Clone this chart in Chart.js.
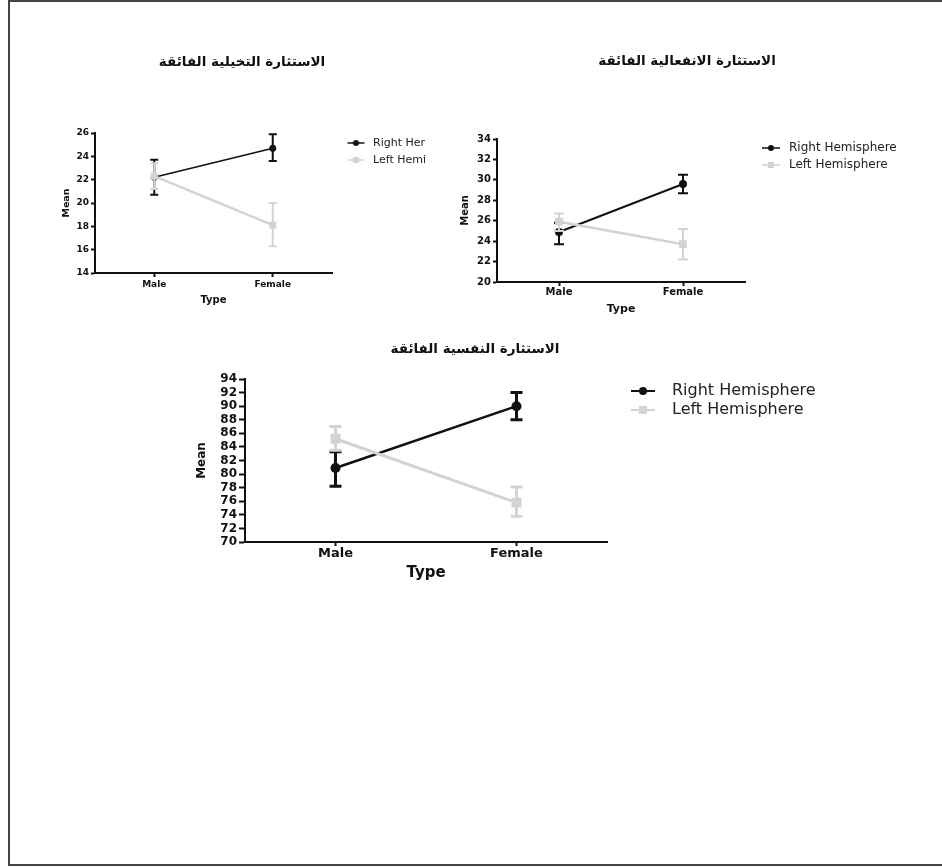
<!DOCTYPE html>
<html>
<head>
<meta charset="utf-8">
<script src="https://cdn.jsdelivr.net/npm/chart.js@4.4.0/dist/chart.umd.min.js"></script>
<style>
  html, body { margin: 0; padding: 0; background: #fff; }
  body { width: 942px; height: 868px; position: relative; overflow: hidden; }
  #frame { position: absolute; left: 8px; top: 0; width: 940px; height: 862px;
           border: 2px solid #444; border-right: none; }
  #clip1 { position: absolute; left: 0; top: 0; width: 425px; height: 868px; overflow: hidden; }
  canvas { position: absolute; }
</style>
</head>
<body>
<div id="frame"></div>
<div id="clip1"><canvas id="c1" width="420" height="273" style="left:20px;top:40px;width:420px;height:273px"></canvas></div>
<canvas id="c2" width="487" height="282" style="left:440px;top:40px;width:487px;height:282px"></canvas>
<canvas id="c3" width="695" height="257" style="left:125px;top:330px;width:695px;height:257px"></canvas>
<script>
// categories and series
const categories = ['Male', 'Female'];
const seriesNames = ['Right Hemisphere', 'Left Hemisphere'];
const titles = [
  'الاستثارة التخيلية الفائقة',
  'الاستثارة الانفعالية الفائقة',
  'الاستثارة النفسية الفائقة'
];
const xTitle = 'Type';
const yTitle = 'Mean';

// imaginative overexcitability
const imgRange = [14, 26];
const imgRightMean = [22.2, 24.7];
const imgRightLow  = [20.7, 23.6];
const imgRightHigh = [23.7, 25.9];
const imgLeftMean  = [22.3, 18.1];
const imgLeftLow   = [21.2, 16.3];
const imgLeftHigh  = [23.4, 20.0];

// emotional overexcitability
const emoRange = [20, 34];
const emoRightMean = [24.9, 29.6];
const emoRightLow  = [23.7, 28.7];
const emoRightHigh = [25.8, 30.5];
const emoLeftMean  = [25.9, 23.7];
const emoLeftLow   = [25.0, 22.2];
const emoLeftHigh  = [26.7, 25.2];

// psychomotor overexcitability
const psyRange = [70, 94];
const psyRightMean = [80.9, 90.0];
const psyRightLow  = [78.2, 88.0];
const psyRightHigh = [83.3, 92.0];
const psyLeftMean  = [85.2, 75.8];
const psyLeftLow   = [83.5, 73.8];
const psyLeftHigh  = [87.0, 78.1];

Chart.defaults.font.family = '"DejaVu Sans", "Liberation Sans", sans-serif';
Chart.defaults.color = '#111';

const BLACK = '#111111';
const GREY = '#d3d3d3';

// small line + marker picture used as legend symbol
function legendIcon(color, shape, width, lineLen, gapR, mark, lineW)
{
  const c = document.createElement('canvas');
  c.width = width;
  c.height = mark + 4;
  const g = c.getContext('2d');
  const cy = c.height / 2;
  const x2 = width - gapR, x1 = x2 - lineLen, cx = (x1 + x2) / 2;
  g.strokeStyle = color;
  g.lineWidth = lineW;
  g.beginPath(); g.moveTo(x1, cy); g.lineTo(x2, cy); g.stroke();
  g.fillStyle = color;
  if (shape == 'circle')
  {
    g.beginPath(); g.arc(cx, cy, mark / 2, 0, Math.PI * 2); g.fill();
  }
  else
  {
    g.fillRect(cx - mark / 2, cy - mark / 2, mark, mark);
  }
  return c;
}

// error bars, drawn under each dataset's line and markers
const errorBars = {
  id: 'errorBars',
  beforeDatasetDraw(chart, args)
  {
    const ds = chart.data.datasets[args.index];
    const y = chart.scales.y;
    const ctx = chart.ctx;
    ctx.save();
    ctx.strokeStyle = ds.borderColor;
    ctx.lineWidth = ds.errWidth;
    args.meta.data.forEach((pt, i) => {
      const top = y.getPixelForValue(ds.errHigh[i]);
      const bot = y.getPixelForValue(ds.errLow[i]);
      ctx.beginPath();
      ctx.moveTo(pt.x, top); ctx.lineTo(pt.x, bot);
      ctx.moveTo(pt.x - ds.capHalf, top); ctx.lineTo(pt.x + ds.capHalf, top);
      ctx.moveTo(pt.x - ds.capHalf, bot); ctx.lineTo(pt.x + ds.capHalf, bot);
      ctx.stroke();
    });
    ctx.restore();
  }
};

// move the legend's left and top edges a little after layout
const legendNudge = {
  id: 'legendNudge',
  afterLayout(chart, args, opts)
  {
    const l = chart.legend;
    if (!l) return;
    l.left += opts.dx;
    l.top += opts.dy; l.bottom += opts.dy;
  }
};

function buildChart(id, s)
{
  const datasets = [{
      label: seriesNames[0],
      data: s.rightMean, errLow: s.rightLow, errHigh: s.rightHigh,
      borderColor: BLACK, backgroundColor: BLACK, borderWidth: s.blackLine,
      pointStyle: 'circle', pointRadius: s.dotR, pointHoverRadius: s.dotR, pointBorderWidth: 0,
      errWidth: s.errW, capHalf: s.cap, order: 1, tension: 0,
      icon: legendIcon(BLACK, 'circle', s.iconW, s.iconLine, s.iconGap, s.iconMark, s.iconLW)
    }, {
      label: seriesNames[1],
      data: s.leftMean, errLow: s.leftLow, errHigh: s.leftHigh,
      borderColor: GREY, backgroundColor: GREY, borderWidth: s.greyLine,
      pointStyle: 'rect', pointRadius: s.sqR, pointHoverRadius: s.sqR, pointBorderWidth: 0,
      errWidth: s.errW, capHalf: s.cap, order: 0, tension: 0,
      icon: legendIcon(GREY, 'rect', s.iconW, s.iconLine, s.iconGap, s.iconMark, s.iconLW)
    }
  ];

  return new Chart(document.getElementById(id), {
    type: 'line',
    data: { labels: categories, datasets: datasets },
    options: {
      responsive: false,
      animation: false,
      events: [],
      layout: { padding: { left: s.padL, right: 0, top: 0, bottom: 0 } },
      scales: {
        x: {
          offset: true,
          border: { color: BLACK, width: 2 },
          grid: { drawOnChartArea: false, tickLength: s.xTick, tickColor: BLACK, tickWidth: 2 },
          ticks: { font: { size: s.xFont, weight: 'bold' }, padding: s.xPad, color: BLACK },
          title: { display: true, text: xTitle, color: BLACK,
                   font: { size: s.typeFont, weight: 'bold' }, padding: { top: 0, bottom: s.typePadB } },
          afterFit: sc => { sc.height = s.xH; }
        },
        y: {
          min: s.range[0], max: s.range[1],
          border: { color: BLACK, width: 2 },
          grid: { drawOnChartArea: false, tickLength: s.yTick, tickColor: BLACK, tickWidth: 2 },
          ticks: { stepSize: 2, autoSkip: false, font: { size: s.yFont, weight: 'bold' }, padding: 2, color: BLACK },
          title: { display: true, text: yTitle, color: BLACK,
                   font: { size: s.meanFont, weight: 'bold' }, padding: { top: s.meanPad, bottom: 0 } },
          afterFit: sc => { sc.width = s.yW; }
        }
      },
      plugins: {
        title: {
          display: true, text: s.title, color: BLACK,
          font: { size: s.titleFont, weight: 'bold' },
          padding: { top: s.titlePadT, bottom: s.titlePadB }
        },
        legend: {
          position: 'right', align: 'start', fullSize: false, maxWidth: s.legendW,
          labels: {
            usePointStyle: true, pointStyleWidth: s.iconW, padding: s.legPad,
            color: '#222', font: { size: s.legFont },
            generateLabels: chart => chart.data.datasets.map((d, i) => ({
              text: d.label, pointStyle: d.icon, datasetIndex: i, hidden: false,
              fillStyle: d.borderColor, strokeStyle: d.borderColor, lineWidth: 0, fontColor: '#222'
            }))
          }
        },
        tooltip: { enabled: false },
        legendNudge: { dx: s.legDx, dy: s.legDy }
      }
    },
    plugins: [errorBars, legendNudge]
  });
}

buildChart('c1', {
  title: titles[0], range: imgRange,
  rightMean: imgRightMean, rightLow: imgRightLow, rightHigh: imgRightHigh,
  leftMean: imgLeftMean, leftLow: imgLeftLow, leftHigh: imgLeftHigh,
  padL: 24, yW: 51, legendW: 108,
  titleFont: 13.5, titlePadT: 13.9, titlePadB: 62.9,
  xH: 40, xFont: 9, xPad: 2.6, xTick: 4, typeFont: 10, typePadB: 7,
  yFont: 9, yTick: 4, meanFont: 9.5, meanPad: 17.3,
  legFont: 11, legPad: 6, iconW: 22, iconLine: 17, iconGap: 3, iconMark: 6, iconLW: 1.5, legDx: 7.5, legDy: -1.5,
  dotR: 3.5, sqR: 5, blackLine: 1.5, greyLine: 2.5, errW: 2, cap: 4
});

buildChart('c2', {
  title: titles[1], range: emoRange,
  rightMean: emoRightMean, rightLow: emoRightLow, rightHigh: emoRightHigh,
  leftMean: emoLeftMean, leftLow: emoLeftLow, leftHigh: emoLeftHigh,
  padL: 7, yW: 50, legendW: 182,
  titleFont: 13.5, titlePadT: 12.9, titlePadB: 69.9,
  xH: 40, xFont: 10, xPad: 0, xTick: 4, typeFont: 11, typePadB: 6.4,
  yFont: 10, yTick: 4, meanFont: 10, meanPad: 12,
  legFont: 12, legPad: 5, iconW: 70, iconLine: 18, iconGap: 3, iconMark: 6, iconLW: 1.5, legDx: -37, legDy: -2,
  dotR: 4, sqR: 5.5, blackLine: 2, greyLine: 2.5, errW: 2, cap: 5
});

buildChart('c3', {
  title: titles[2], range: psyRange,
  rightMean: psyRightMean, rightLow: psyRightLow, rightHigh: psyRightHigh,
  leftMean: psyLeftMean, leftLow: psyLeftLow, leftHigh: psyLeftHigh,
  padL: 5, yW: 115, legendW: 213,
  titleFont: 13.5, titlePadT: 10.9, titlePadB: 21.9,
  xH: 45, xFont: 13, xPad: 0, xTick: 4, typeFont: 15, typePadB: 5,
  yFont: 12, yTick: 6, meanFont: 12, meanPad: 64.8,
  legFont: 16, legPad: 3, iconW: 60, iconLine: 24, iconGap: 9, iconMark: 8, iconLW: 2, legDx: -6, legDy: 1,
  dotR: 5, sqR: 7, blackLine: 2.5, greyLine: 3, errW: 3, cap: 6
});
</script>
</body>
</html>
